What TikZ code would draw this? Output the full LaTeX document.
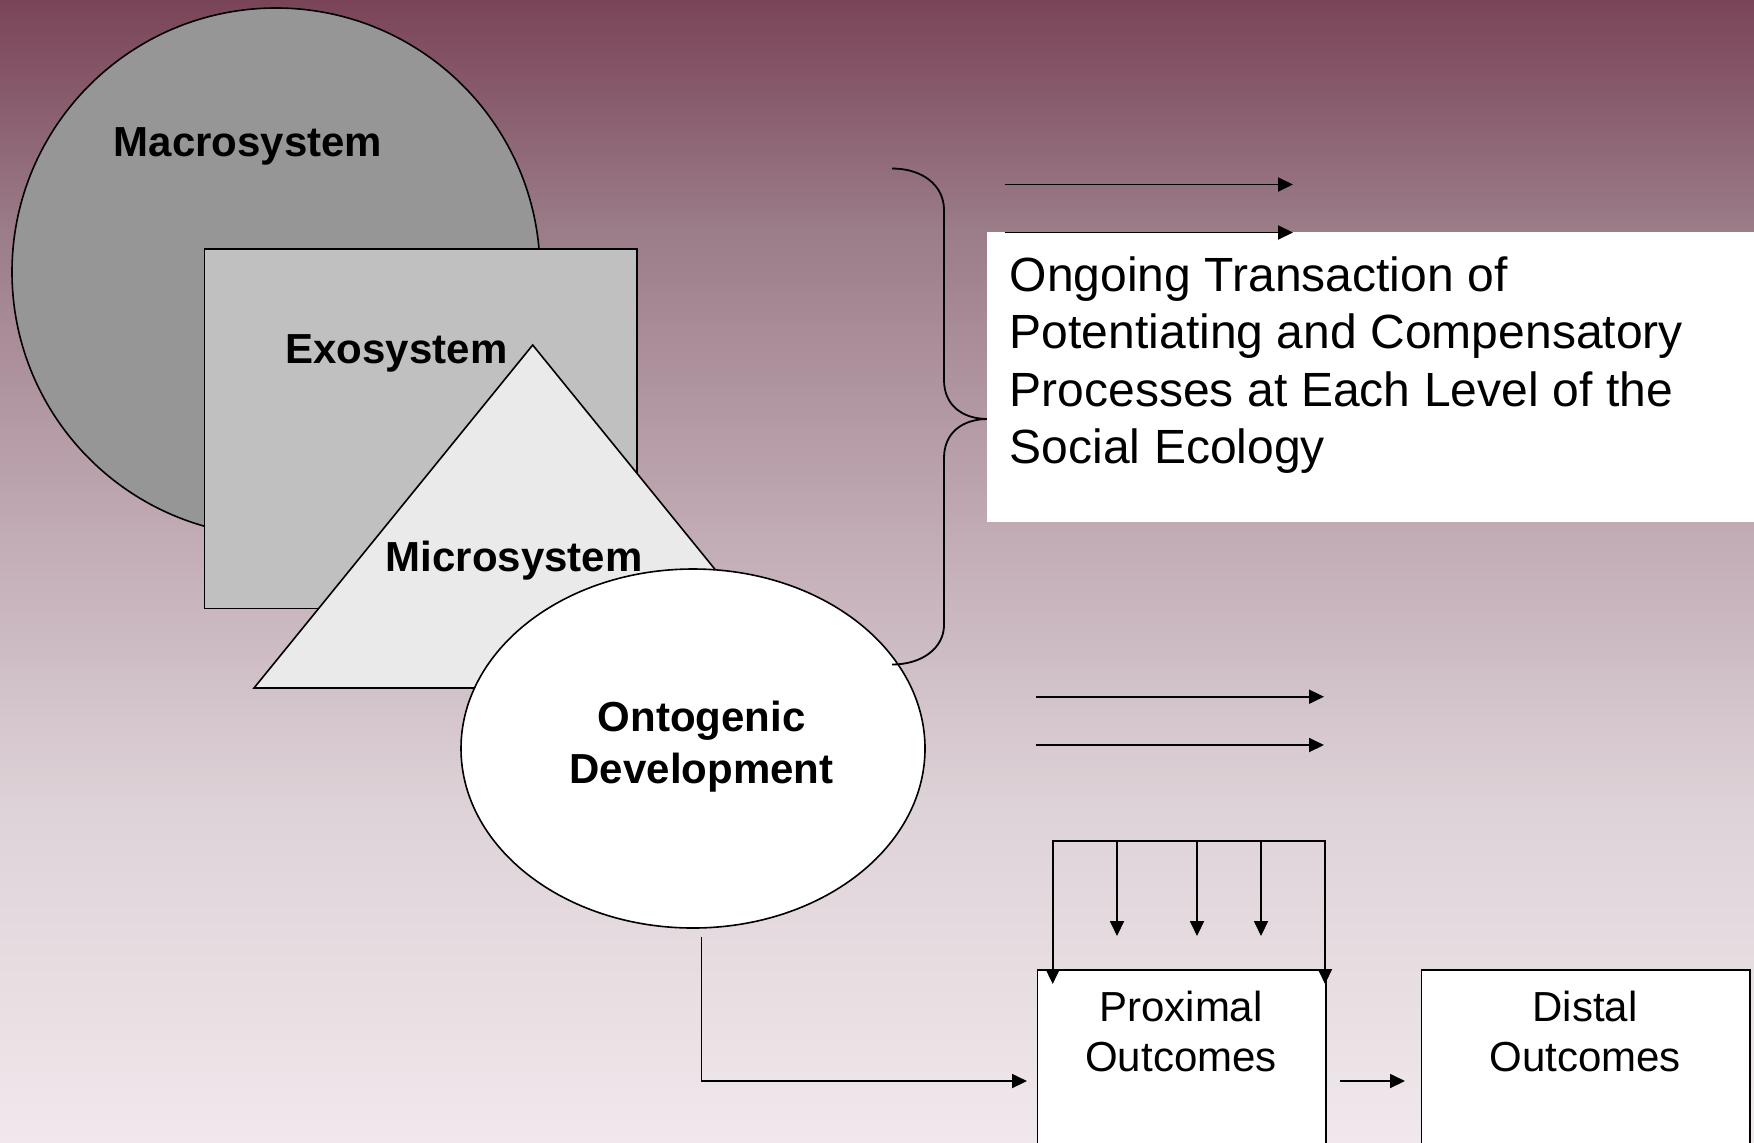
\documentclass[tikz,border=0pt]{standalone}
\usepackage{fontspec}
\setmainfont{Liberation Sans}
\usetikzlibrary{arrows.meta,shapes.geometric}
\definecolor{bgA}{RGB}{122,68,88}
\definecolor{bgB}{RGB}{155,124,137}
\definecolor{bgC}{RGB}{192,169,179}
\definecolor{bgD}{RGB}{221,210,215}
\definecolor{bgE}{RGB}{240,232,236}
\definecolor{macrofill}{RGB}{150,150,150}
\definecolor{exofill}{RGB}{192,192,192}
\definecolor{microfill}{RGB}{234,234,234}
\pgfdeclareverticalshading{bgshade}{100bp}{color(0bp)=(bgE); color(25bp)=(bgE); color(39.97bp)=(bgD); color(52.23bp)=(bgC); color(64.93bp)=(bgB); color(75bp)=(bgA); color(100bp)=(bgA)}
\newcommand\mytightspace{\spaceskip=6.8pt plus 2pt minus 1pt\relax}
\begin{document}
\begin{tikzpicture}[x=0.5pt,y=-0.5pt,
  outl/.style={draw=black, line width=0.8pt},
  lab/.style={font=\fontsize{21}{25.7}\selectfont\bfseries, inner sep=0pt},
  boxlab/.style={font=\fontsize{21}{25}\selectfont, inner sep=0pt, text width=150pt, align=center},
  arr/.style={line width=0.9pt, -{Triangle[length=7.5pt,width=7pt]}},
  twoarr/.style={line width=0.9pt, {Triangle[length=7.5pt,width=7pt]}-{Triangle[length=7.5pt,width=7pt]}},
  plain/.style={line width=0.9pt}]
\useasboundingbox (0,0) rectangle (1754,1142);
\clip (0,0) rectangle (1754,1142);
\fill[shading=bgshade] (0,0) rectangle (1754,1142);

% Macrosystem circle
\node[circle, outl, fill=macrofill, minimum size=264pt, inner sep=0pt] (macro) at (276,272) {};
\node[lab, anchor=base] (macrolab) at (248,156) {Macrosystem};

% Exosystem square
\node[rectangle, outl, fill=exofill, minimum width=216.35pt, minimum height=179.9pt, inner sep=0pt] (exo) at (420.65,428.6) {};
\node[lab, anchor=base] (exolab) at (396.5,363) {Exosystem};

% Microsystem triangle
\coordinate (triA) at (532.7,345);
\coordinate (triB) at (254,688);
\coordinate (triC) at (811.4,688);
\draw[outl, fill=microfill] (triA) -- (triB) -- (triC) -- cycle;
\node[lab, anchor=base] (microlab) at (514.3,571.7) {Microsystem};

% Ontogenic development ellipse
\node[ellipse, outl, fill=white, minimum width=232pt, minimum height=179.5pt, inner sep=0pt] (onto) at (693,748.5) {};
\node[lab, anchor=base, text width=200pt, align=center] (ontolab) at (701.5,731.7) {Ontogenic\\Development};

% Brace
\coordinate (bT) at (892,168.5);
\coordinate (bM) at (988,419);
\coordinate (bB) at (892,664.5);
\draw[plain] (bT) .. controls (922,168.5) and (944,185) .. (944,210) -- (944,380)
  .. controls (944,405) and (962,419) .. (bM)
  .. controls (962,419) and (944,433) .. (944,458) -- (944,625)
  .. controls (944,648) and (922,664.5) .. (bB);

% White text box
\node[fill=white, minimum width=383.5pt, minimum height=145pt, inner sep=0pt, anchor=north west] (tbox) at (987,232) {};
\node[anchor=base west, text width=380pt, align=left, inner sep=0pt,
      font=\fontsize{24}{28.8}\selectfont] (ttext) at (1009.5,291)
  {\mytightspace Ongoing Transaction of\\Potentiating and Compensatory\\Processes at Each Level of the\\Social Ecology};

% Upper arrows
\coordinate (a1s) at (1004.5,184.5);
\coordinate (a1e) at (1293,184.5);
\coordinate (a2s) at (1004.5,232.5);
\coordinate (a2e) at (1293,232.5);
\draw[arr] (a1s) -- (a1e);
\draw[arr] (a2s) -- (a2e);

% Middle arrows
\coordinate (m1s) at (1036,696.7);
\coordinate (m1e) at (1324,696.7);
\coordinate (m2s) at (1036,745);
\coordinate (m2e) at (1324,745);
\draw[arr] (m1s) -- (m1e);
\draw[arr] (m2s) -- (m2e);

% Outcome boxes
\node[rectangle, outl, fill=white, minimum width=144.15pt, minimum height=120pt, inner sep=0pt, anchor=north west] (prox) at (1036.7,969) {};
\node[rectangle, outl, fill=white, minimum width=164.15pt, minimum height=120pt, inner sep=0pt, anchor=north west] (dist) at (1420.7,969) {};
\node[boxlab, anchor=base] (proxlab) at (1181,1021.7) {Proximal\\Outcomes};
\node[boxlab, anchor=base] (distlab) at (1585,1021.7) {Distal\\Outcomes};

% Ontogenic -> Proximal
\coordinate (ostart) at (701.4,937);
\coordinate (pin) at (1027,1081);
\draw[arr] (ostart) |- (pin);

% Proximal -> Distal
\coordinate (pd1) at (1340,1081);
\coordinate (pd2) at (1405,1081);
\draw[arr] (pd1) -- (pd2);

% Feedback loop
\coordinate (lL) at (1052.7,984);
\coordinate (lTL) at (1052.7,841);
\coordinate (lTR) at (1325,841);
\coordinate (lR) at (1325,984);
\draw[twoarr] (lL) -- (lTL) -- (lTR) -- (lR);
\foreach \xx/\nm in {1117/d1,1197/d2,1261/d3}{
  \coordinate (\nm s) at (\xx,841);
  \coordinate (\nm e) at (\xx,936);
  \draw[arr] (\nm s) -- (\nm e);
}
\end{tikzpicture}
\end{document}
